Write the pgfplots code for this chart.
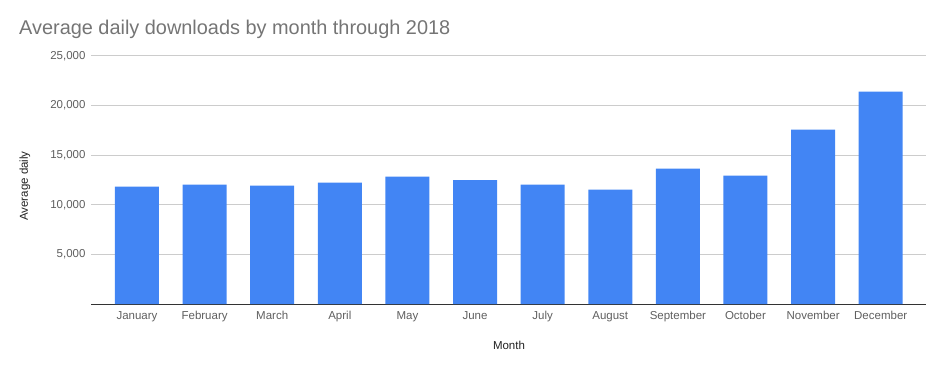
\documentclass[border=0pt]{standalone}
\usepackage{pgfplots}
\pgfplotsset{compat=1.18}
\usepackage{fontspec}
\setmainfont{Liberation Sans}
\definecolor{barblue}{HTML}{4285F4}
\definecolor{titlegray}{HTML}{757575}
\definecolor{tickgray}{HTML}{5F5F5F}
\definecolor{gridgray}{HTML}{CCCCCC}
\definecolor{labelgray}{HTML}{222222}
\begin{document}
\begin{tikzpicture}[x=1bp,y=1bp]
\path[use as bounding box] (0,0) rectangle (945,371);
\node[anchor=base west, text=titlegray, inner sep=0pt, font=\fontsize{19.9bp}{23bp}\selectfont] at (19,337) {Average daily downloads by month through 2018};
\begin{axis}[
  at={(91bp,67bp)}, anchor=south west,
  scale only axis, width=835bp, height=248bp,
  xmin=-0.68, xmax=11.67, ymin=0, ymax=25000,
  ybar, bar width=44bp,
  bar shift=0pt,
  xtick={0,...,11},
  xticklabels={January,February,March,April,May,June,July,August,September,October,November,December},
  ytick={5000,10000,15000,20000,25000},
  extra y ticks={0}, extra y tick labels={},
  extra y tick style={grid style={draw=black!80, line width=1bp}},
  ymajorgrids, grid style={draw=gridgray, line width=1bp},
  major tick length=0pt,
  axis line style={draw=none},
  /pgf/number format/assume math mode=true,
  /pgf/number format/1000 sep={,},
  scaled y ticks=false,
  ticklabel style={text=tickgray, font=\fontsize{11.5bp}{13bp}\selectfont},
  yticklabel style={xshift=-2bp},
  xticklabel style={yshift=-4bp},
  clip=false,
]
\addplot[fill=barblue, draw=none] coordinates {
  (0,11825) (1,12026) (2,11925) (3,12228) (4,12833) (5,12500)
  (6,12026) (7,11522) (8,13639) (9,12933) (10,17570) (11,21400)};
\end{axis}
\node[rotate=90, text=labelgray, font=\fontsize{11.5bp}{13bp}\selectfont] at (25,185) {Average daily};
\node[text=labelgray, font=\fontsize{11.5bp}{13bp}\selectfont] at (509,26) {Month};
\end{tikzpicture}
\end{document}
